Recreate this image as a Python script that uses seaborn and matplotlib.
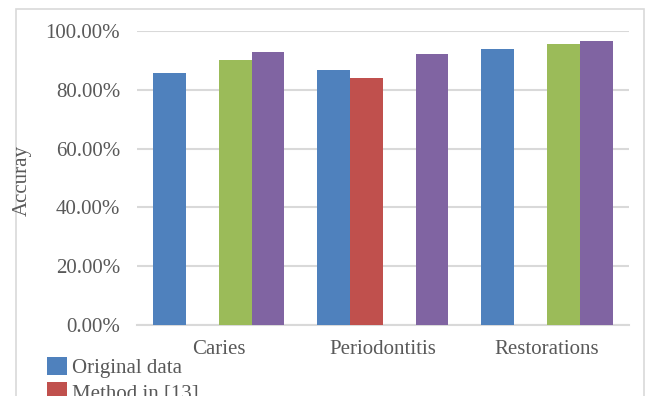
import matplotlib
matplotlib.use("Agg")
import matplotlib.pyplot as plt
import matplotlib.patches as mpatches
from matplotlib.ticker import FuncFormatter
import numpy as np
import pandas as pd
import seaborn as sns

# Accuracy per lesion type for each approach (None = not reported)
categories = ["Caries", "Periodontitis", "Restorations"]
series_names = ["Original data", "Method in [13]", "Method in [14]", "Proposed method"]
original_data = [0.856, 0.867, 0.938]
method_13 = [None, 0.841, None]
method_14 = [0.903, None, 0.957]
proposed = [0.929, 0.922, 0.966]
y_ticks = [0.0, 0.2, 0.4, 0.6, 0.8, 1.0]

colors = ["#4F81BD", "#C0504D", "#9BBB59", "#8064A2"]

rows = []
for name, vals in zip(series_names, [original_data, method_13, method_14, proposed]):
    for cat, v in zip(categories, vals):
        rows.append({"category": cat, "method": name,
                     "accuracy": np.nan if v is None else v})
df = pd.DataFrame(rows).dropna()

sns.set_theme(style="white")
plt.rcParams["font.family"] = ["Liberation Serif", "DejaVu Serif"]

W, H = 652, 396
fig = plt.figure(figsize=(W / 100, H / 100), dpi=100)
ax = fig.add_axes([136.7 / W, 1 - 325 / H, (629 - 136.7) / W, (325 - 31) / H])

sns.barplot(data=df, x="category", y="accuracy", hue="method",
            order=categories, hue_order=series_names,
            palette=colors, width=0.8, saturation=1, errorbar=None,
            linewidth=0, ax=ax, zorder=3, legend=False)

ax.set_xlim(-0.5, 2.5)
ax.set_ylim(0, 1.0)
ax.set_yticks(y_ticks)
ax.yaxis.set_major_formatter(FuncFormatter(lambda v, _: f"{v:.2%}"))
ax.grid(axis="y", color="#D9D9D9", linewidth=1.5, zorder=0)
ax.set_axisbelow(True)
for side in ["left", "right", "top"]:
    ax.spines[side].set_visible(False)
ax.spines["bottom"].set_color("#D9D9D9")
ax.spines["bottom"].set_linewidth(1.5)
ax.tick_params(axis="y", length=0, pad=12, labelsize=15, labelcolor="#595959")
ax.tick_params(axis="x", length=0, pad=11, labelsize=15, labelcolor="#595959")
ax.set_xlabel("")
ax.set_ylabel("")

fig.text(22 / W, 1 - 180 / H, "Accuray", rotation=90, ha="center", va="center",
         fontsize=15, color="#595959")

# Chart-area frame
frame = mpatches.Rectangle((16 / W, -0.2), (644 - 16) / W, 1 - 9 / H + 0.2,
                           transform=fig.transFigure, fill=False,
                           edgecolor="#D9D9D9", linewidth=1.2)
fig.patches.append(frame)

handles = [mpatches.Patch(facecolor=c, edgecolor="none") for c in colors]
fig.legend(handles, series_names, loc="upper left",
           bbox_to_anchor=(46.5 / W, 1 - 357 / H), frameon=False, ncol=1,
           fontsize=15, handlelength=0.96, handleheight=0.96, handletextpad=0.25,
           labelspacing=0.2, borderpad=0, borderaxespad=0, labelcolor="#595959")

fig.savefig("out.png", dpi=100)
